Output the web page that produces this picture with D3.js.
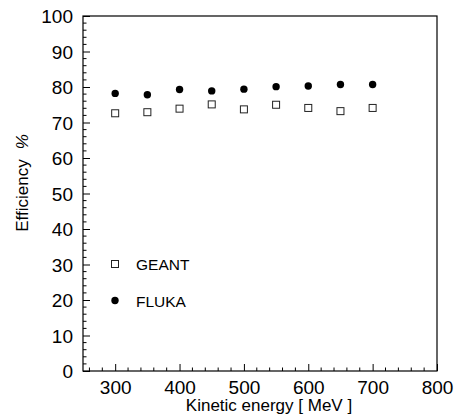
<!DOCTYPE html>
<html>
<head>
<meta charset="utf-8">
<script src="https://cdn.jsdelivr.net/npm/d3@7"></script>
<style>
  body { margin: 0; background: white; }
  text { font-family: "Liberation Sans", Arial, sans-serif; fill: black; }
</style>
</head>
<body>
<div id="chart"></div>
<script>
const energies = [300, 350, 400, 450, 500, 550, 600, 650, 700];
const geant = [72.6, 72.9, 73.9, 75.1, 73.7, 75.0, 74.1, 73.2, 74.1];
const fluka = [78.2, 77.8, 79.3, 78.9, 79.4, 80.1, 80.3, 80.7, 80.7];
const xTicks = [300, 400, 500, 600, 700, 800];
const yTicks = [0, 10, 20, 30, 40, 50, 60, 70, 80, 90, 100];

const wSvg = 455;
const hSvg = 415;
const xLeft = 83, xRight = 437, yTop = 16, yBottom = 371;

let x = d3.scaleLinear([250, 800], [xLeft, xRight]);
let y = d3.scaleLinear([0, 100], [yBottom, yTop]);

let svg = d3.select("#chart")
    .append("svg")
    .attr("width", wSvg)
    .attr("height", hSvg);

// frame
svg.append("rect")
    .attr("x", xLeft)
    .attr("y", yTop)
    .attr("width", xRight - xLeft)
    .attr("height", yBottom - yTop)
    .attr("fill", "none")
    .attr("stroke", "black")
    .attr("stroke-width", 1.2);

// minor ticks
let yMinor = d3.range(0, 101, 2).filter(v => v % 10 !== 0);
svg.append("g")
    .selectAll("line")
    .data(yMinor)
    .enter()
    .append("line")
    .attr("x1", xLeft).attr("x2", xLeft + 3.5)
    .attr("y1", d => y(d)).attr("y2", d => y(d))
    .attr("stroke", "black");

let xMinor = d3.range(260, 800, 20).filter(v => v % 100 !== 0);
svg.append("g")
    .selectAll("line")
    .data(xMinor)
    .enter()
    .append("line")
    .attr("x1", d => x(d)).attr("x2", d => x(d))
    .attr("y1", yBottom).attr("y2", yBottom - 3.5)
    .attr("stroke", "black");

// major ticks + labels via axes
let yAxis = d3.axisRight(y).tickValues(yTicks).tickSize(7).tickFormat(d3.format("d"));
let gy = svg.append("g")
    .attr("transform", `translate(${xLeft}, 0)`)
    .call(yAxis);
gy.select(".domain").remove();
gy.selectAll(".tick line").attr("stroke", "black");
gy.selectAll("text")
    .attr("x", -10)
    .attr("text-anchor", "end")
    .style("font-size", "19px")
    .attr("dy", "0.36em");

let xAxis = d3.axisTop(x).tickValues(xTicks).tickSize(7).tickFormat(d3.format("d"));
let gx = svg.append("g")
    .attr("transform", `translate(0, ${yBottom})`)
    .call(xAxis);
gx.select(".domain").remove();
gx.selectAll(".tick line").attr("stroke", "black");
gx.selectAll("text")
    .attr("y", 22.5)
    .attr("dy", 0)
    .style("font-size", "19px");

svg.selectAll(".tick text").attr("fill", "black").style("font-family", "'Liberation Sans', Arial, sans-serif");

// data
svg.append("g")
    .selectAll("rect")
    .data(energies)
    .enter()
    .append("rect")
    .attr("x", (d, i) => x(d) - 3.5)
    .attr("y", (d, i) => y(geant[i]) - 3.5)
    .attr("width", 7)
    .attr("height", 7)
    .attr("fill", "white")
    .attr("stroke", "#222")
    .attr("stroke-width", 1);

svg.append("g")
    .selectAll("circle")
    .data(energies)
    .enter()
    .append("circle")
    .attr("cx", d => x(d))
    .attr("cy", (d, i) => y(fluka[i]))
    .attr("r", 3.7)
    .attr("fill", "black");

// legend
svg.append("rect")
    .attr("x", 111.5).attr("y", 260.5)
    .attr("width", 7).attr("height", 7)
    .attr("fill", "white").attr("stroke", "#222");
svg.append("text")
    .attr("x", 136).attr("y", 270)
    .style("font-size", "15.5px")
    .text("GEANT");
svg.append("circle")
    .attr("cx", 115).attr("cy", 300.5).attr("r", 3.7).attr("fill", "black");
svg.append("text")
    .attr("x", 136).attr("y", 306.5)
    .style("font-size", "15.5px")
    .text("FLUKA");

// axis titles
svg.append("text")
    .attr("x", 269)
    .attr("y", 411)
    .attr("text-anchor", "middle")
    .style("font-size", "17px")
    .text("Kinetic energy [ MeV ]");

let yt = svg.append("text")
    .attr("transform", `translate(28, 183) rotate(-90)`)
    .attr("text-anchor", "middle")
    .style("font-size", "17px");
yt.append("tspan").text("Efficiency");
yt.append("tspan").attr("dx", 10).style("font-style", "italic").text("%");
</script>
</body>
</html>
